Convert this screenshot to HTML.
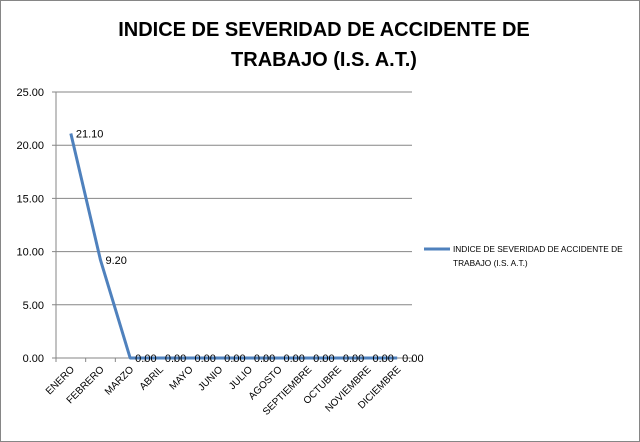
<!DOCTYPE html>
<html><head><meta charset="utf-8"><style>
body{margin:0;background:#fff}
svg{display:block;font-family:"Liberation Sans",sans-serif}
</style></head><body>
<svg width="640" height="442">
<rect x="0.5" y="0.5" width="639" height="441" fill="#fff" stroke="#868686"/>
<text x="324" y="36" text-anchor="middle" font-size="20" font-weight="bold">INDICE DE SEVERIDAD DE ACCIDENTE DE</text>
<text x="324" y="66" text-anchor="middle" font-size="20" font-weight="bold">TRABAJO (I.S. A.T.)</text>
<g id="grid"></g><g id="axes"></g><g id="series"></g>
<line x1="424" y1="249" x2="450" y2="249" stroke="#4f81bd" stroke-width="3"/>
<text x="453" y="252" font-size="8.3">INDICE DE SEVERIDAD DE ACCIDENTE DE</text>
<text x="453" y="266" font-size="8.3">TRABAJO (I.S. A.T.)</text>
</svg>
<script>
const categories=["ENERO","FEBRERO","MARZO","ABRIL","MAYO","JUNIO","JULIO","AGOSTO","SEPTIEMBRE","OCTUBRE","NOVIEMBRE","DICIEMBRE"];
const values=[21.10,9.20,0,0,0,0,0,0,0,0,0,0];
const yTicks=[0,5,10,15,20,25];
const NS="http://www.w3.org/2000/svg";
const X0=56,X1=412,Y0=358,Y1=92,YMAX=25;
const step=(X1-X0)/categories.length;
const xs=i=>X0+(i+0.5)*step;
const ys=v=>Y0-(v/YMAX)*(Y0-Y1);
function mk(t,a,p){const e=document.createElementNS(NS,t);for(const k in a)e.setAttribute(k,a[k]);p.appendChild(e);return e;}
const grid=document.getElementById('grid'),axes=document.getElementById('axes'),ser=document.getElementById('series');
yTicks.forEach(v=>{
 const l=mk('line',{x1:X0-4,x2:X1,y1:ys(v),y2:ys(v),stroke:'#868686','stroke-width':1},grid);
 
 
 const t=mk('text',{x:X0-12,y:ys(v)+4,'text-anchor':'end','font-size':11},axes);
 t.textContent=v.toFixed(2);
 
 
});
const ax=mk('line',{x1:X0,x2:X0,y1:Y1,y2:Y0,stroke:'#868686'},axes);


for(let i=0;i<=categories.length;i++){
 const tk=mk('line',{x1:X0+i*step,x2:X0+i*step,y1:Y0,y2:Y0+4,stroke:'#868686'},axes);
 
 
}
categories.forEach((c,i)=>{
 const x=xs(i)+4,y=Y0+12;
 const t=mk('text',{x:x,y:y,'text-anchor':'end','font-size':10,transform:`rotate(-45 ${x} ${y})`},axes);
 t.textContent=c;
 
 
});
const pl=mk('polyline',{points:values.map((v,i)=>xs(i)+','+ys(v)).join(' '),fill:'none',stroke:'#4f81bd','stroke-width':3,'stroke-linejoin':'round'},ser);


values.forEach((v,i)=>{
 const t=mk('text',{x:xs(i)+5,y:ys(v)+4,'font-size':11},ser);
 t.textContent=v.toFixed(2);
 
 
});
</script>
</body></html>
